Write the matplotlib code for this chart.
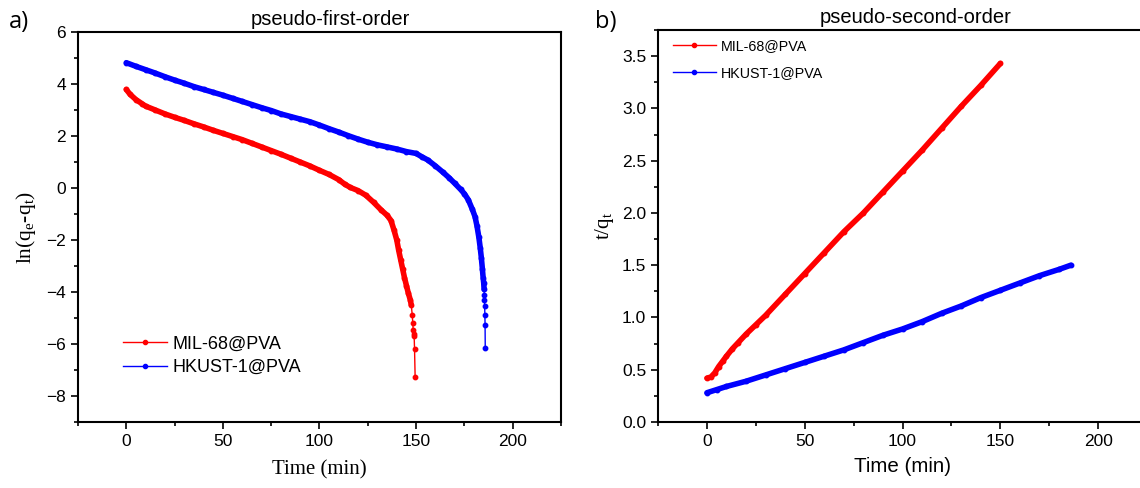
import matplotlib
matplotlib.use('Agg')
import matplotlib.pyplot as plt
from matplotlib.ticker import MultipleLocator
from matplotlib.lines import Line2D

# pseudo-first-order, ln(qe - qt) vs time
t1_mil = [0, 2, 5, 8, 10, 15, 20, 25, 30, 35, 40, 45, 50, 55, 60, 65, 70, 75, 80,
          85, 90, 95, 100, 105, 110, 113, 116, 120, 124, 128, 132, 135, 137, 138.5,
          140, 141, 142, 143, 144, 145, 146, 147, 147.5, 148, 148.3, 148.5, 148.8,
          149, 149.2, 149.5]
y1_mil = [3.79, 3.6, 3.4, 3.25, 3.15, 3.0, 2.85, 2.72, 2.6, 2.47, 2.35, 2.22, 2.1,
          1.98, 1.86, 1.72, 1.58, 1.44, 1.3, 1.15, 1.0, 0.85, 0.68, 0.52, 0.32, 0.15,
          0.02, -0.1, -0.28, -0.55, -0.85, -1.05, -1.25, -1.6, -2.0, -2.4, -2.75,
          -3.1, -3.45, -3.75, -4.05, -4.3, -4.5, -4.87, -5.2, -5.45, -5.6, -5.7,
          -6.2, -7.25]
t1_hk = [0, 5, 10, 15, 20, 25, 30, 35, 40, 45, 50, 55, 60, 65, 70, 75, 80, 85, 90,
         95, 100, 105, 110, 115, 120, 125, 130, 135, 140, 145, 150, 153, 156, 160,
         164, 167, 170, 173, 175, 177, 179, 180.5, 181.5, 182.5, 183.2, 183.8,
         184.3, 184.7, 185, 185.2, 185.3, 185.4, 185.5, 185.6, 185.7, 185.8]
y1_hk = [4.82, 4.68, 4.55, 4.42, 4.28, 4.15, 4.03, 3.9, 3.79, 3.68, 3.57, 3.45,
         3.33, 3.21, 3.09, 2.98, 2.85, 2.75, 2.65, 2.55, 2.42, 2.28, 2.15, 2.01,
         1.88, 1.76, 1.66, 1.58, 1.5, 1.4, 1.33, 1.2, 1.08, 0.85, 0.6, 0.4, 0.18,
         -0.05, -0.22, -0.45, -0.8, -1.1, -1.45, -1.9, -2.3, -2.7, -3.1, -3.45,
         -3.65, -3.9, -4.1, -4.3, -4.55, -4.87, -5.25, -6.17]

# pseudo-second-order, t/qt vs time
t2_mil = [0, 2, 4, 6, 8, 10, 13, 16, 20, 25, 30, 40, 50, 60, 70, 80, 90, 100, 110,
          120, 130, 140, 150]
y2_mil = [0.42, 0.43, 0.47, 0.53, 0.58, 0.63, 0.7, 0.76, 0.84, 0.93, 1.02, 1.22,
          1.42, 1.62, 1.82, 2.0, 2.2, 2.4, 2.6, 2.81, 3.02, 3.22, 3.43]
t2_hk = [0, 5, 10, 20, 30, 40, 50, 60, 70, 80, 90, 100, 110, 120, 130, 140, 150,
         160, 170, 180, 186]
y2_hk = [0.28, 0.31, 0.34, 0.39, 0.45, 0.51, 0.57, 0.63, 0.69, 0.76, 0.83, 0.89,
         0.96, 1.04, 1.11, 1.19, 1.26, 1.33, 1.4, 1.46, 1.5]

labels = ['MIL-68@PVA', 'HKUST-1@PVA']
colors = ['#ff0000', '#0000ff']

plt.rcParams['font.family'] = ['Liberation Sans', 'DejaVu Sans']
plt.rcParams['mathtext.default'] = 'regular'
plt.rcParams['axes.linewidth'] = 1.5

fig = plt.figure(figsize=(11.4, 4.88), dpi=100)
ax1 = fig.add_axes([0.0684, 0.1352, 0.4237, 0.7992])
ax2 = fig.add_axes([0.5772, 0.1352, 0.4290, 0.8033])


def draw(ax, t, y, color, tail):
    # dense part looks like a thick band of markers, tail shows single dots
    n = len(t) - tail
    ax.plot(t[:n + 1], y[:n + 1], '-', color=color, lw=4, solid_capstyle='round')
    ax.plot(t, y, '-o', color=color, lw=1, ms=3.2)


draw(ax1, t1_mil, y1_mil, colors[0], 8)
draw(ax1, t1_hk, y1_hk, colors[1], 7)
draw(ax2, t2_mil, y2_mil, colors[0], 0)
draw(ax2, t2_hk, y2_hk, colors[1], 0)

handles = [Line2D([], [], color=c, lw=1, marker='o', ms=3) for c in colors]

for ax in (ax1, ax2):
    ax.set_xlim(-25, 225)
    ax.xaxis.set_major_locator(MultipleLocator(50))
    ax.xaxis.set_minor_locator(MultipleLocator(25))
    ax.tick_params(which='both', direction='out', top=False, right=False,
                   labelsize=12.5, width=1.2)
    ax.tick_params(which='major', length=5)
    ax.tick_params(which='minor', length=3)

ax1.set_ylim(-9, 6)
ax1.yaxis.set_major_locator(MultipleLocator(2))
ax1.yaxis.set_minor_locator(MultipleLocator(1))
ax1.set_title('pseudo-first-order', fontsize=14.5, pad=5, x=0.522)
ax1.set_xlabel('Time (min)', family='Liberation Serif', fontsize=15, labelpad=8)
ax1.set_ylabel('ln(q$_e$-q$_t$)', family='Liberation Serif', fontsize=15.5,
               labelpad=6)
ax1.legend(handles, labels, loc='center left', bbox_to_anchor=(0.06, 0.17),
           frameon=False, fontsize=13, handlelength=2.4, handletextpad=0.35,
           labelspacing=0.35)

ax2.set_ylim(0, 3.75)
ax2.yaxis.set_major_locator(MultipleLocator(0.5))
ax2.yaxis.set_minor_locator(MultipleLocator(0.25))
ax2.set_title('pseudo-second-order', fontsize=14.5, pad=5, x=0.526)
ax2.set_xlabel('Time (min)', fontsize=14.8, labelpad=6)
ax2.set_ylabel('t/q$_t$', family='Liberation Serif', fontsize=15)
ax2.legend(handles, labels, loc='center left', bbox_to_anchor=(0.004, 0.925),
           frameon=False, fontsize=10.3, handlelength=3, handletextpad=0.35,
           labelspacing=0.9)

fig.text(0.008, 0.955, 'a)', fontsize=17, family='Open Sans', va='center')
fig.text(0.522, 0.955, 'b)', fontsize=17, family='Open Sans', va='center')

fig.savefig('out.png', dpi=100)
